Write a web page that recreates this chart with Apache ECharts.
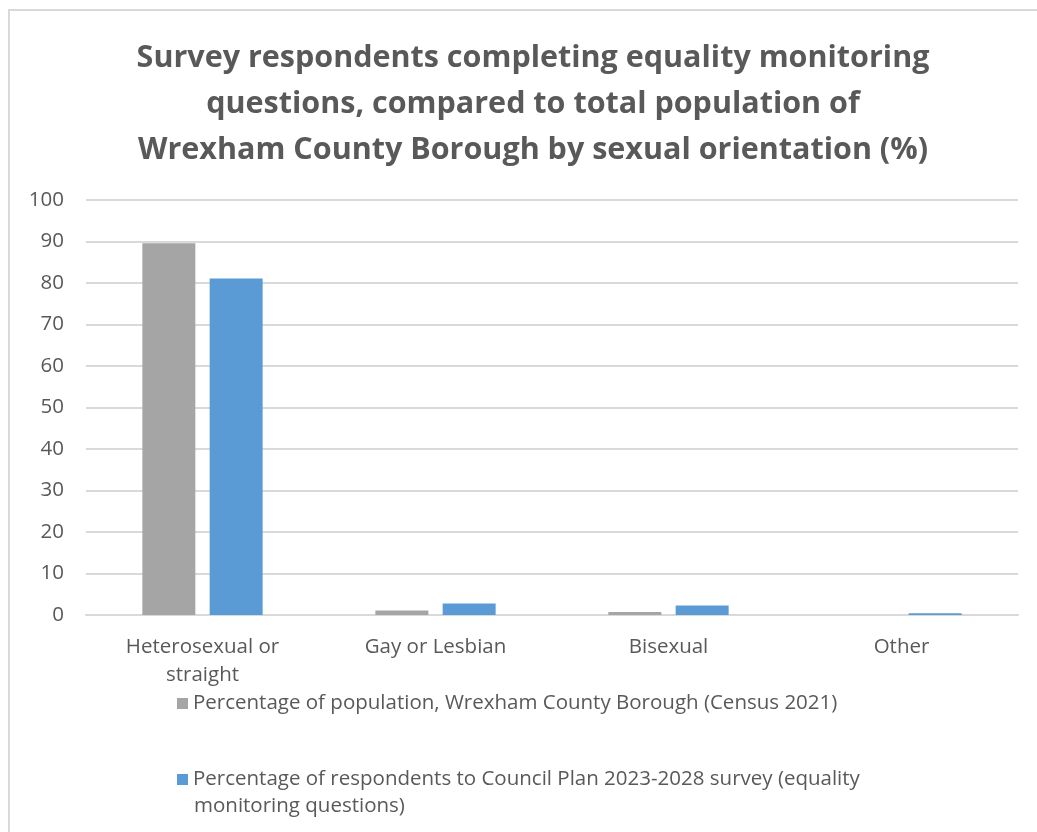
<!DOCTYPE html>
<html><head><meta charset="utf-8">
<script src="https://cdn.jsdelivr.net/npm/echarts@6/dist/echarts.min.js"></script>
<style>
html,body{margin:0;padding:0;background:#fff;}
#frame{position:absolute;left:8px;top:9px;width:1040px;height:840px;border:2px solid #d9d9d9;box-sizing:border-box;}
#c{position:absolute;left:0;top:0;width:1037px;height:832px;}
</style></head>
<body>
<div id="frame"></div>
<div id="c"></div>
<script>
const titleText = "Survey respondents completing equality monitoring\nquestions, compared to total population of\nWrexham County Borough by sexual orientation (%)";
const categories = ["Heterosexual or\nstraight", "Gay or Lesbian", "Bisexual", "Other"];
const seriesNames = [
  "Percentage of population, Wrexham County Borough (Census 2021)",
  "Percentage of respondents to Council Plan 2023-2028 survey (equality monitoring questions)"
];
const legendLines2 = ["Percentage of respondents to Council Plan 2023-2028 survey (equality", "monitoring questions)"];
const censusValues = [89.6, 1.1, 0.7, 0];
const surveyValues = [81.1, 2.8, 2.3, 0.4];
const yTicks = [0, 10, 20, 30, 40, 50, 60, 70, 80, 90, 100];

const FONT = "Open Sans";
const TXT = {fontFamily: FONT, fontSize: 20.5, color: '#595959'};
const LEG = {fontFamily: FONT, fontSize: 20.5, color: '#595959', letterSpacing: 0.25};
const chart = echarts.init(document.getElementById('c'), null, {renderer: 'canvas'});
chart.setOption({
  backgroundColor: 'transparent',
  animation: false,
  title: {
    text: titleText,
    left: 528, top: 30, textAlign: 'center',
    textStyle: {fontFamily: "Open Sans", fontWeight: 'bold', fontSize: 30.5, color: '#595959', lineHeight: 46}
  },
  legend: [
    {
      data: [seriesNames[0]], left: 172, top: 688,
      itemWidth: 11, itemHeight: 11, itemGap: 0, icon: 'rect',
      textStyle: LEG
    },
    {
      data: [seriesNames[1]], left: 172, top: 764,
      itemWidth: 11, itemHeight: 11, icon: 'rect',
      formatter: function(){ return legendLines2[0]; },
      textStyle: LEG
    }
  ],
  graphic: [
    {type: 'text', left: 194, top: 796, silent: true,
     style: {text: legendLines2[1], font: '20.5px "Open Sans"', fill: '#595959'}}
  ],
  grid: {left: 86, right: 19, top: 200, bottom: 217, containLabel: false},
  xAxis: {
    type: 'category', data: categories,
    axisLine: {lineStyle: {color: '#d9d9d9', width: 2}},
    axisTick: {show: false},
    axisLabel: Object.assign({margin: 18, lineHeight: 28}, TXT)
  },
  yAxis: {
    type: 'value', min: 0, max: 100, interval: 10,
    axisLine: {show: false}, axisTick: {show: false},
    splitLine: {lineStyle: {color: '#d9d9d9', width: 2}},
    axisLabel: Object.assign({margin: 22,
      formatter: function(v){ return yTicks.indexOf(v) >= 0 ? String(v) : ''; }}, TXT)
  },
  series: [
    {name: seriesNames[0], type: 'bar', data: censusValues, barWidth: 53, barGap: '27%',
     itemStyle: {color: '#a5a5a5'}},
    {name: seriesNames[1], type: 'bar', data: surveyValues, barWidth: 53,
     itemStyle: {color: '#5b9bd5'}}
  ]
});
</script>
</body></html>
